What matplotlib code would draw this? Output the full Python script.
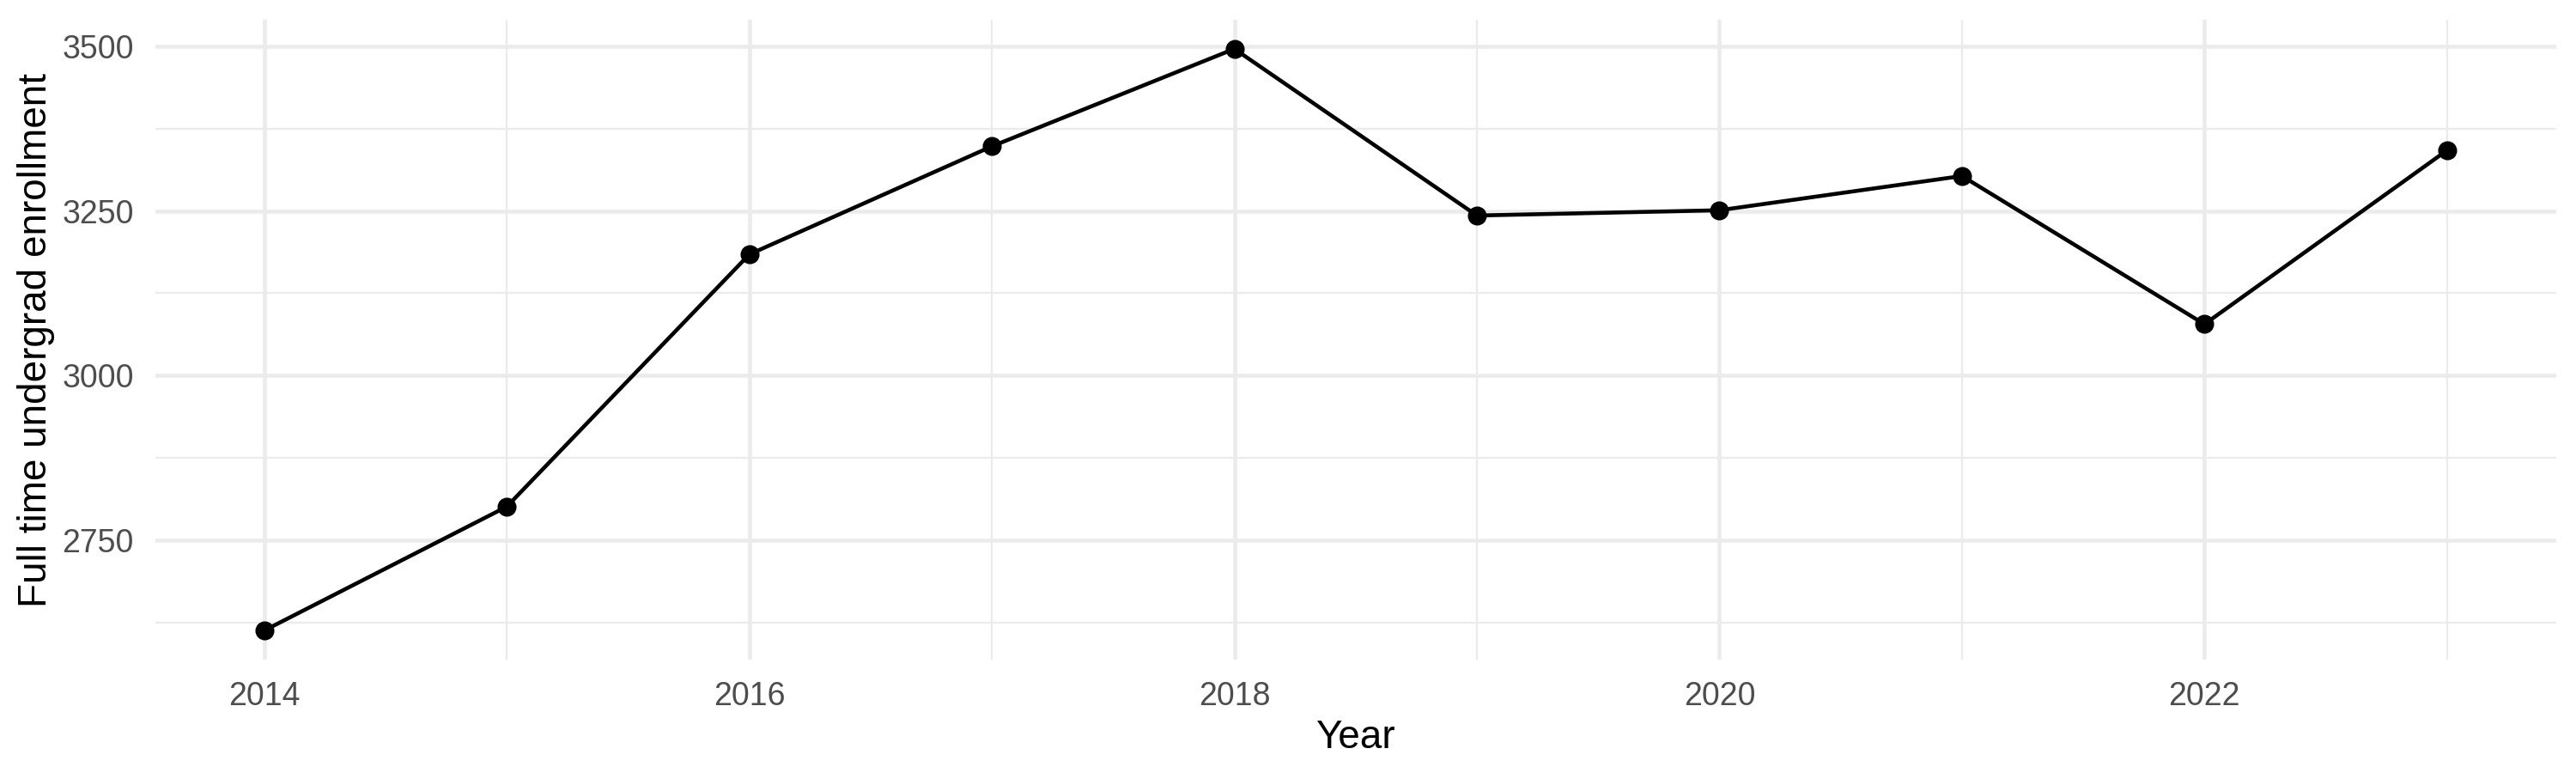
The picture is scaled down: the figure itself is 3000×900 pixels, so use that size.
import matplotlib
matplotlib.use("Agg")
import matplotlib.pyplot as plt
from matplotlib.ticker import MultipleLocator

plt.rcParams['font.family'] = ['Liberation Sans', 'DejaVu Sans']

years = [2014, 2015, 2016, 2017, 2018, 2019, 2020, 2021, 2022, 2023]
enrollment = [2613, 2801, 3184, 3348, 3496, 3243, 3251, 3303, 3078, 3342]

fig = plt.figure(figsize=(10, 3), dpi=300)
ax = fig.add_axes([0.0602, 0.1467, 0.9321, 0.8277])

# ggplot-like theme_minimal
ax.set_xlim(2014 - 0.45, 2023 + 0.45)
lo, hi = min(enrollment), max(enrollment)
pad = (hi - lo) * 0.05
ax.set_ylim(lo - pad, hi + pad)

ax.xaxis.set_major_locator(MultipleLocator(2))
ax.xaxis.set_minor_locator(MultipleLocator(1))
ax.yaxis.set_major_locator(MultipleLocator(250))
ax.yaxis.set_minor_locator(MultipleLocator(125))

ax.grid(which='major', color='#EBEBEB', linewidth=1.1)
ax.grid(which='minor', color='#EBEBEB', linewidth=0.55)
ax.set_axisbelow(True)
for s in ax.spines.values():
    s.set_visible(False)
ax.tick_params(which='both', length=0, labelsize=9, labelcolor='#4D4D4D', pad=6)

ax.plot(years, enrollment, color='black', linewidth=1.1, zorder=3)
ax.plot(years, enrollment, 'o', color='black', markersize=4.3, zorder=4)

ax.set_xlabel('Year', fontsize=11, labelpad=2)
ax.set_ylabel('Full time undergrad enrollment', fontsize=11, labelpad=2)

fig.savefig('out.png', dpi=300, facecolor='white')
